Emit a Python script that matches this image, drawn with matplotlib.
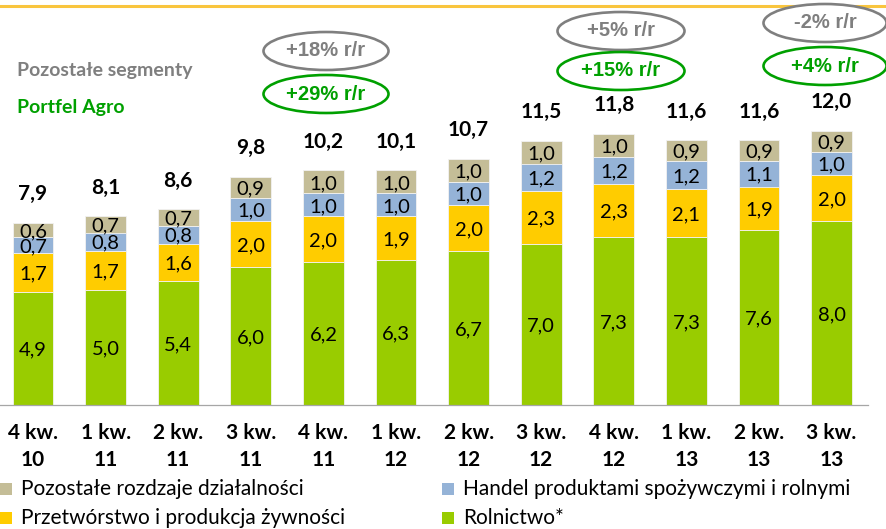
import matplotlib
matplotlib.use("Agg")
import matplotlib.pyplot as plt
from matplotlib.patches import Ellipse, Rectangle
from matplotlib.lines import Line2D
import numpy as np

# dane (mld zł)
quarters = ["4 kw.", "1 kw.", "2 kw.", "3 kw.", "4 kw.", "1 kw.", "2 kw.", "3 kw.", "4 kw.", "1 kw.", "2 kw.", "3 kw."]
years = ["10", "11", "11", "11", "11", "12", "12", "12", "12", "13", "13", "13"]
rolnictwo = [4.9, 5.0, 5.4, 6.0, 6.2, 6.3, 6.7, 7.0, 7.3, 7.3, 7.6, 8.0]
przetworstwo = [1.7, 1.7, 1.6, 2.0, 2.0, 1.9, 2.0, 2.3, 2.3, 2.1, 1.9, 2.0]
handel = [0.7, 0.8, 0.8, 1.0, 1.0, 1.0, 1.0, 1.2, 1.2, 1.2, 1.1, 1.0]
pozostale = [0.6, 0.7, 0.7, 0.9, 1.0, 1.0, 1.0, 1.0, 1.0, 0.9, 0.9, 0.9]
totals = [7.9, 8.1, 8.6, 9.8, 10.2, 10.1, 10.7, 11.5, 11.8, 11.6, 11.6, 12.0]

series_names = ["Rolnictwo*", "Przetwórstwo i produkcja żywności",
                "Handel produktami spożywczymi i rolnymi", "Pozostałe rozdzaje działalności"]
series_colors = ["#99CC00", "#FFCC00", "#95B3D7", "#C4BD97"]

# r/r dynamics: (pozostale segmenty, portfel agro)
yoy_gray = ["+18% r/r", "+5% r/r", "-2% r/r"]
yoy_green = ["+29% r/r", "+15% r/r", "+4% r/r"]

W, H = 887, 529
GRAY = "#7F7F7F"
GREEN = "#00A000"


def fx(x):
    return x / W


def fy(y):
    return 1 - y / H


def fmt(v):
    return f"{v:.1f}".replace(".", ",")


fig = plt.figure(figsize=(W / 100, H / 100), dpi=100)
ax = fig.add_axes([0, fy(405), 868 / W, (405 - 14) / H])

x = np.arange(len(quarters))
bottom = np.zeros(len(quarters))
for vals, color in zip([rolnictwo, przetworstwo, handel, pozostale], series_colors):
    vals = np.array(vals)
    ax.bar(x, vals, width=0.56, bottom=bottom, color=color, edgecolor="#F2F2F2", linewidth=0.6, zorder=2)
    for xi, b, v in zip(x, bottom, vals):
        ax.text(xi, b + v / 2, fmt(v), ha="center", va="center_baseline",
                fontsize=14.5, family="Lato", color="black", zorder=4)
    bottom += vals

for xi, top, t in zip(x, bottom, totals):
    ax.annotate(fmt(t), (xi, top), xytext=(0, 16.5), textcoords="offset points",
                ha="center", va="baseline", fontsize=15, fontweight="bold", family="Lato")

ax.set_xlim(-33 / 72.6, (868 - 33) / 72.6)
ax.set_ylim(0, 17)
ax.set_yticks([])
ax.set_xticks(x)
ax.set_xticklabels([f"{q}\n{y}" for q, y in zip(quarters, years)], fontsize=15,
                   fontweight="bold", family="Lato", linespacing=1.45)
ax.tick_params(axis="x", length=0, pad=13)
for s in ["top", "left", "right"]:
    ax.spines[s].set_visible(False)
ax.spines["bottom"].set_color("#A6A6A6")
ax.spines["bottom"].set_linewidth(0.9)
ax.patch.set_visible(False)

# gold line at top
fig.add_artist(Line2D([0, 1], [fy(5.5), fy(5.5)], transform=fig.transFigure,
                      color="#F9C53E", linewidth=2.2, zorder=1))

# headers
fig.text(fx(17), fy(76), "Pozostałe segmenty", color=GRAY, fontsize=14,
         fontweight="bold", family="Lato", va="baseline")
fig.text(fx(17), fy(113), "Portfel Agro", color=GREEN, fontsize=14,
         fontweight="bold", family="Lato", va="baseline")

# r/r ellipses
ell_pos = [(326, 51, 94, 125), (621, 31, 71, 127), (825, 23, 66, 123)]
for (cx, gy, gry, w), tg, tgr in zip(ell_pos, yoy_gray, yoy_green):
    for cy, txt, col in [(gy, tg, GRAY), (gry, tgr, GREEN)]:
        e = Ellipse((fx(cx), fy(cy)), w / W, 38 / H, transform=fig.transFigure,
                    facecolor="white", edgecolor=col, linewidth=1.9, zorder=5)
        fig.add_artist(e)
        fig.text(fx(cx), fy(cy), txt, color=col, fontsize=14.5, fontweight="bold",
                 family="Liberation Sans", ha="center", va="center", zorder=6)

# legend
legend_items = [(0, 489, 3), (0, 518, 1), (442, 489, 2), (442, 518, 0)]
for lx, ly, idx in legend_items:
    fig.add_artist(Rectangle((fx(lx), fy(ly + 6)), 12 / W, 12 / H, transform=fig.transFigure,
                             facecolor=series_colors[idx], edgecolor="none"))
    fig.text(fx(lx + 21), fy(ly), series_names[idx], fontsize=15, family="Lato",
             va="center", ha="left", color="black")

fig.savefig("out.png", dpi=100)
